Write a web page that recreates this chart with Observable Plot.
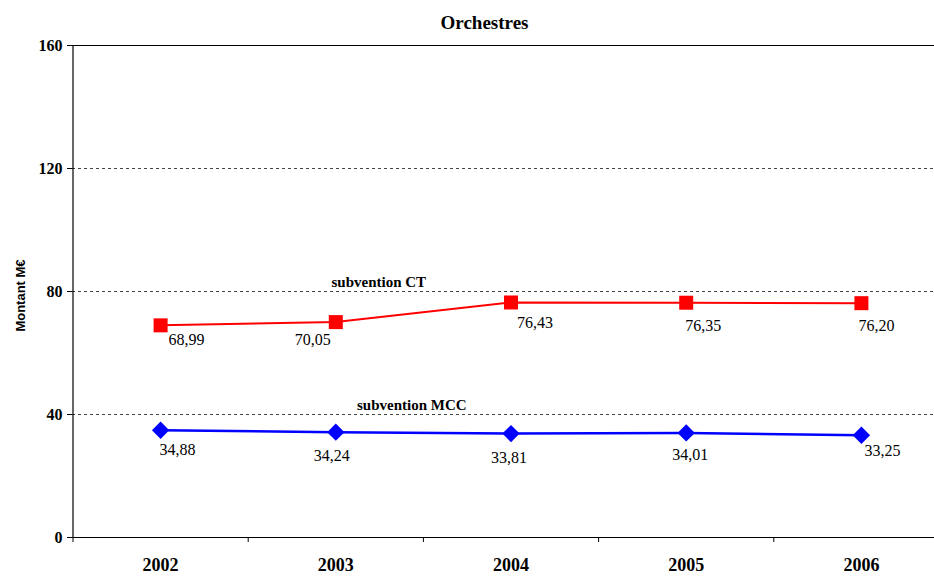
<!DOCTYPE html>
<html>
<head>
<meta charset="utf-8">
<script src="https://cdn.jsdelivr.net/npm/d3@7"></script>
<script src="https://cdn.jsdelivr.net/npm/@observablehq/plot@0.6"></script>
<style>
  html, body { margin: 0; padding: 0; background: #fff; }
  svg { display: block; }
</style>
</head>
<body>
<div id="chart"></div>
<script>
// ---- data ----
const title = "Orchestres";
const yLabel = "Montant M€";
const years = [2002, 2003, 2004, 2005, 2006];
const subventionCT = [68.99, 70.05, 76.43, 76.35, 76.20];
const subventionMCC = [34.88, 34.24, 33.81, 34.01, 33.25];
const seriesNames = ["subvention CT", "subvention MCC"];
const yTicks = [0, 40, 80, 120, 160];
const gridTicks = [40, 80, 120];

// ---- build ----
const table = years.map((year, i) => ({year, ct: subventionCT[i], mcc: subventionMCC[i]}));
const fmt = v => v.toFixed(2).replace(".", ",");
const bounds = years.map(y => y - 0.5).concat([years[years.length - 1] + 0.5]);

// label offsets (style)
const ctDx = [26, -23, 24, 17, 15], ctDy = [15, 18, 20, 23, 23];
const mccDx = [17, -4, -2, 4, 21], mccDy = [20, 24, 24, 22, 16];

const serif = "'Liberation Serif', 'Times New Roman', Times, serif";
const sans = "'Liberation Sans', Arial, sans-serif";

const ctLabels = table.map((d, i) => Plot.text([d], {
  x: "year", y: "ct", text: r => fmt(r.ct), dx: ctDx[i], dy: ctDy[i],
  fontSize: 16, fontFamily: serif, fill: "#000"
}));
const mccLabels = table.map((d, i) => Plot.text([d], {
  x: "year", y: "mcc", text: r => fmt(r.mcc), dx: mccDx[i], dy: mccDy[i],
  fontSize: 16, fontFamily: serif, fill: "#000"
}));

const chart = Plot.plot({
  width: 934,
  height: 576,
  marginTop: 45,
  marginBottom: 39,
  marginLeft: 72,
  marginRight: 0,
  style: {fontFamily: serif, background: "#fff", color: "#000", overflow: "hidden"},
  x: {type: "linear", domain: [bounds[0], bounds[bounds.length - 1]], range: [72.5, 948.5]},
  y: {domain: [yTicks[0], yTicks[yTicks.length - 1]]},
  marks: [
    Plot.ruleY(gridTicks, {stroke: "#444", strokeDasharray: "3,3", strokeWidth: 1}),
    Plot.ruleY([yTicks[yTicks.length - 1]], {stroke: "#000", strokeWidth: 1.2}),
    Plot.ruleY([yTicks[0]], {stroke: "#000", strokeWidth: 1.2}),
    Plot.ruleX([bounds[0]], {y1: yTicks[0], y2: yTicks[yTicks.length - 1], stroke: "#000", strokeWidth: 1.2}),
    Plot.axisY({ticks: yTicks, tickSize: 5, tickPadding: 5, tickFormat: d => String(d),
      fontSize: 16, fontWeight: "bold", fontFamily: serif, label: null}),
    Plot.axisX({ticks: bounds, tickSize: 5, tickFormat: () => "", label: null}),
    Plot.axisX({ticks: years, tickSize: 0, tickPadding: 21, tickFormat: d => String(d),
      fontSize: 18, fontWeight: "bold", fontFamily: serif, label: null}),
    Plot.line(table, {x: "year", y: "ct", stroke: "#ff0000", strokeWidth: 2}),
    Plot.line(table, {x: "year", y: "mcc", stroke: "#0000ff", strokeWidth: 2.5}),
    Plot.dot(table, {x: "year", y: "ct", symbol: "square", r: 7.9, fill: "#ff0000", stroke: null}),
    Plot.dot(table, {x: "year", y: "mcc", symbol: "diamond2", r: 7.8, fill: "#0000ff", stroke: null}),
    ...ctLabels,
    ...mccLabels,
    Plot.text([seriesNames[0]], {x: () => years[1], y: () => gridTicks[1], text: d => d,
      dx: 43, dy: -9, fontSize: 15, fontWeight: "bold", fontFamily: serif, fill: "#000"}),
    Plot.text([seriesNames[1]], {x: () => years[1], y: () => gridTicks[0], text: d => d,
      dx: 76, dy: -9, fontSize: 15, fontWeight: "bold", fontFamily: serif, fill: "#000"}),
    Plot.text([title], {frameAnchor: "top", lineAnchor: "middle", textAnchor: "middle",
      dx: -19, dy: -23, fontSize: 19, fontWeight: "bold", fontFamily: serif, fill: "#000"}),
    Plot.text([yLabel], {frameAnchor: "left", lineAnchor: "middle", textAnchor: "middle",
      rotate: -90, dx: -52, dy: 4, fontSize: 13, fontWeight: "bold", fontFamily: sans, fill: "#000"})
  ]
});
document.getElementById("chart").appendChild(chart);
</script>
</body>
</html>
